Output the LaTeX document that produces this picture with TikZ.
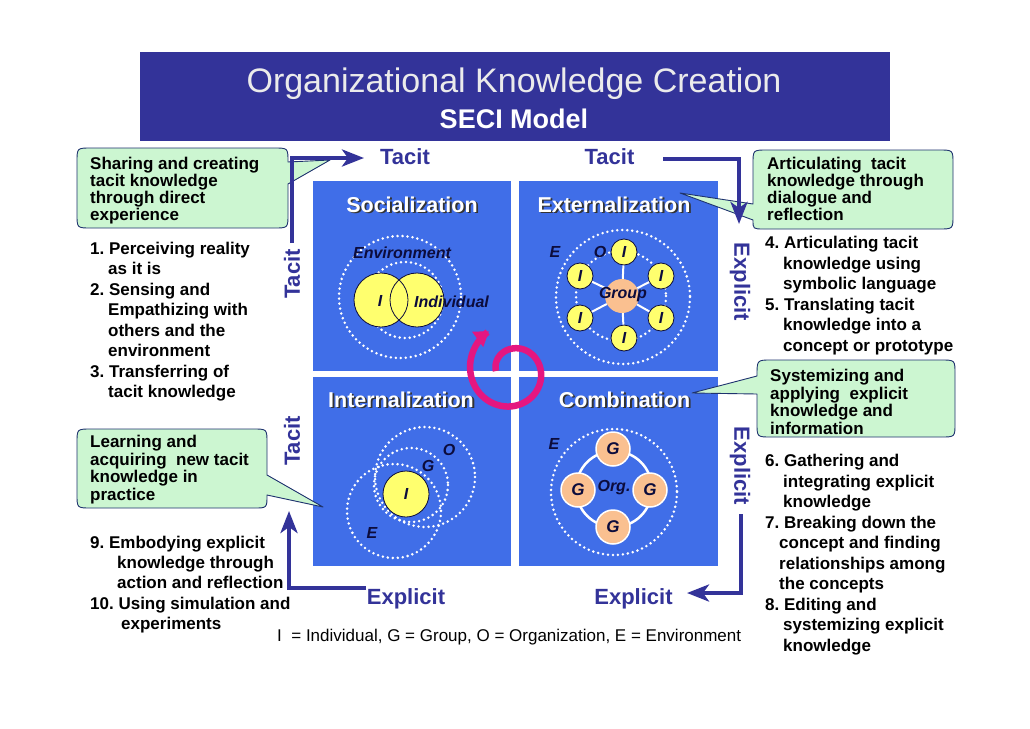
\documentclass[tikz,border=0pt]{standalone}
\usepackage{fontspec}
\setmainfont{Liberation Sans}
\usetikzlibrary{arrows.meta}
\frenchspacing
\definecolor{navy}{RGB}{51,51,153}
\definecolor{quadblue}{RGB}{64,110,232}
\definecolor{magentaS}{RGB}{228,22,128}
\definecolor{yellowC}{RGB}{255,255,110}
\definecolor{peach}{RGB}{250,192,144}
\definecolor{mint}{RGB}{204,246,209}
\definecolor{calloutline}{RGB}{30,50,110}
\definecolor{darkink}{RGB}{12,12,60}
\tikzset{
  quad/.style={fill=quadblue, draw=none, inner sep=0pt},
  dotring/.style={draw=white, line width=2.8pt, dash pattern=on 0pt off 5pt, line cap=round},
  lst/.style={anchor=base west, inner sep=0pt, font=\fontsize{17}{20}\selectfont\bfseries},
  ctext/.style={anchor=base west, inner sep=0pt, font=\fontsize{17}{17}\selectfont\bfseries},
  callout/.style={fill=mint, draw=calloutline, line width=0.9pt, line join=round},
  flowarrow/.style={draw=navy, line width=4.6pt, -{Stealth[length=22pt,width=17pt,inset=6pt]}},
  axislbl/.style={text=navy, font=\fontsize{22}{24}\selectfont\bfseries, inner sep=0pt},
  qtitle/.style={text=white, font=\fontsize{21.5}{24}\selectfont\bfseries, anchor=base, inner sep=0pt},
  qshadow/.style={text=black!80, font=\fontsize{21.5}{24}\selectfont\bfseries, anchor=base, inner sep=0pt},
  lbl/.style={text=darkink, font=\fontsize{16}{18}\selectfont\bfseries\itshape, inner sep=0pt},
  icirc/.style={circle, fill=yellowC, draw=darkink, line width=0.8pt, inner sep=0pt},
  gcirc/.style={circle, fill=peach, draw=white, line width=1.5pt, inner sep=0pt},
  spoke/.style={draw=white, line width=2pt},
  spiral/.style={draw=magentaS, line width=6.5pt, -{Triangle[length=14pt,width=18pt]}},
}
\begin{document}
\begin{tikzpicture}[x=1pt,y=-1pt]
\useasboundingbox (0,0) rectangle (1030,728);
\fill[white] (0,0) rectangle (1030,728);

% ---------- title ----------
\node[fill=navy, anchor=north west, minimum width=750pt, minimum height=89pt, inner sep=0pt] (titlebox) at (140,52) {};
\node[anchor=base, inner sep=0pt, text=white!92!black, font=\fontsize{34}{36}\selectfont] (title1) at (514,92) {Organizational Knowledge Creation};
\node[anchor=base, inner sep=0pt, text=white, font=\fontsize{27}{30}\selectfont\bfseries] (title2) at (514,128) {SECI Model};

% ---------- quadrants ----------
\node[quad, minimum width=198pt, minimum height=190pt] (soc) at (412,276) {};
\node[quad, minimum width=199pt, minimum height=190pt] (ext) at (618.5,276) {};
\node[quad, minimum width=198pt, minimum height=189pt] (int) at (412,471.5) {};
\node[quad, minimum width=199pt, minimum height=189pt] (com) at (618.5,471.5) {};

% Socialization graphic
\draw[dotring] (400,297) circle[radius=61];
\draw[dotring] (405,300) circle[radius=38];
\node[circle, fill=yellowC, inner sep=0pt, minimum size=54pt] (sA) at (381,300) {};
\node[circle, fill=yellowC, inner sep=0pt, minimum size=54pt] (sB) at (417,300) {};
\node[circle, draw=darkink, line width=0.8pt, inner sep=0pt, minimum size=54pt] (sAo) at (sA) {};
\node[circle, draw=darkink, line width=0.8pt, inner sep=0pt, minimum size=54pt] (sBo) at (sB) {};
\node[lbl, anchor=base] (envL) at (402,258) {Environment};
\node[lbl] (sIL) at (380,301) {I};
\node[lbl, anchor=west] (indL) at (414,302) {Individual};

% Externalization graphic
\draw[dotring] (623,297) circle[radius=67];
\draw[dotring] (621,296) circle[radius=45];
\node[circle, fill=peach, inner sep=0pt, minimum size=34pt] (grp) at (622,296) {};
\node[icirc, lbl, minimum size=26pt] (e1) at (624,252) {I};
\node[icirc, lbl, minimum size=26pt] (e2) at (580,276) {I};
\node[icirc, lbl, minimum size=26pt] (e3) at (661,276) {I};
\node[icirc, lbl, minimum size=26pt] (e4) at (580,318) {I};
\node[icirc, lbl, minimum size=26pt] (e5) at (661,318) {I};
\node[icirc, lbl, minimum size=26pt] (e6) at (624,338) {I};
\foreach \n in {e1,e2,e3,e4,e5,e6} \draw[spoke] (grp) -- (\n);
\node[lbl] (grpL) at (623,295) {Group};
\node[lbl] (eE) at (555,252) {E};
\node[lbl] (eO) at (600,252) {O};

% Internalization graphic
\draw[dotring] (394,511) circle[radius=47];
\draw[dotring] (411,485) circle[radius=37];
\draw[dotring] (425,477) circle[radius=50];
\node[icirc, lbl, minimum size=46pt] (iI) at (406,494) {I};
\node[lbl] (iO) at (449,450) {O};
\node[lbl] (iG) at (428,466) {G};
\node[lbl] (iE) at (372,533) {E};

% Combination graphic
\draw[dotring] (614,492) circle[radius=63];
\draw[draw=white, line width=2.5pt] (614,489) circle[radius=38];
\node[gcirc, lbl, font=\fontsize{17}{18}\selectfont\bfseries\itshape, minimum size=34pt] (g1) at (613,449) {G};
\node[gcirc, lbl, font=\fontsize{17}{18}\selectfont\bfseries\itshape, minimum size=34pt] (g2) at (578,490) {G};
\node[gcirc, lbl, font=\fontsize{17}{18}\selectfont\bfseries\itshape, minimum size=34pt] (g3) at (650,490) {G};
\node[gcirc, lbl, font=\fontsize{17}{18}\selectfont\bfseries\itshape, minimum size=34pt] (g4) at (613,527) {G};
\node[lbl] (orgL) at (614,488) {Org.};
\node[lbl] (cE) at (554,444) {E};

% quadrant titles
\node[qshadow] (socS) at (413.8,213.8) {Socialization};
\node[qtitle]  (socT) at (412,212) {Socialization};
\node[qshadow] (extS) at (615.8,213.8) {Externalization};
\node[qtitle]  (extT) at (614,212) {Externalization};
\node[qshadow] (intS) at (402.8,408.8) {Internalization};
\node[qtitle]  (intT) at (401,407) {Internalization};
\node[qshadow] (comS) at (626.3,408.8) {Combination};
\node[qtitle]  (comT) at (624.5,407) {Combination};

% ---------- callouts ----------
\path[callout] (91,148) -- (274,148) .. controls (288,148) .. (288,162) -- (330,160) -- (288,184)
  -- (288,214) .. controls (288,228) .. (274,228) -- (91,228) .. controls (77,228) .. (77,214)
  -- (77,162) .. controls (77,148) .. (91,148) -- cycle;
\path[callout] (767,150) -- (939,150) .. controls (953,150) .. (953,164) -- (953,215)
  .. controls (953,229) .. (939,229) -- (764,229) .. controls (753,229) .. (753,220)
  -- (680,193) -- (753,204) -- (753,164) .. controls (753,150) .. (767,150) -- cycle;
\path[callout] (771,360) -- (941,360) .. controls (955,360) .. (955,374) -- (955,423)
  .. controls (955,437) .. (941,437) -- (771,437) .. controls (757,437) .. (757,423)
  -- (757,394) -- (692,393) -- (757,376) .. controls (757,360) .. (771,360) -- cycle;
\path[callout] (91,429) -- (253,429) .. controls (267,429) .. (267,443) -- (267,475)
  -- (323,507) -- (267,495) .. controls (267,508) .. (254,508) -- (91,508)
  .. controls (77,508) .. (77,494) -- (77,443) .. controls (77,429) .. (91,429) -- cycle;

\foreach \i/\x/\y/\t in {1/90/163/{Sharing and creating}, 2/90/180/{tacit knowledge},
  3/90/197/{through direct}, 4/90/214/{experience},
  5/767/163/{Articulating~ tacit}, 6/767/180/{knowledge through}, 7/767/197/{dialogue and}, 8/767/214/{reflection},
  9/770/375/{Systemizing and}, 10/770/393/{applying~ explicit}, 11/770/410/{knowledge and}, 12/770/428/{information},
  13/90/441/{Learning and}, 14/90/459/{acquiring~ new tacit}, 15/90/476/{knowledge in}, 16/90/494/{practice}}
  \node[ctext] (ct\i) at (\x,\y+6) {\t};

% ---------- flow arrows ----------
\coordinate (a1s) at (292,243); \coordinate (a1c) at (292,158); \coordinate (a1e) at (364,158);
\coordinate (a2s) at (663,159); \coordinate (a2c) at (739,159); \coordinate (a2e) at (739,224);
\coordinate (a3s) at (741,514); \coordinate (a3c) at (741,593); \coordinate (a3e) at (687,593);
\coordinate (a4s) at (366,588); \coordinate (a4c) at (289,588); \coordinate (a4e) at (289,511);
\draw[flowarrow] (a1s) -- (a1c) -- (a1e);
\draw[flowarrow] (a2s) -- (a2c) -- (a2e);
\draw[flowarrow] (a3s) -- (a3c) -- (a3e);
\draw[flowarrow] (a4s) -- (a4c) -- (a4e);

% axis labels
\node[axislbl, anchor=base] (tacT1) at (405,164) {Tacit};
\node[axislbl, anchor=base] (tacT2) at (609.5,164) {Tacit};
\node[axislbl, anchor=base] (expB1) at (406,604) {Explicit};
\node[axislbl, anchor=base] (expB2) at (633.5,604) {Explicit};
\node[axislbl, rotate=90] (tacL1) at (292,274) {Tacit};
\node[axislbl, rotate=90] (tacL2) at (292,441) {Tacit};
\node[axislbl, rotate=-90] (expR1) at (740,282) {Explicit};
\node[axislbl, rotate=-90] (expR2) at (740,466) {Explicit};

% ---------- lists ----------
\foreach \i/\x/\y/\t in {1/90/248/{1. Perceiving reality}, 2/108/268/{as it is}, 3/90/289/{2. Sensing and},
  4/108/309/{Empathizing with}, 5/108/330/{others and the}, 6/108/350/{environment},
  7/90/371/{3. Transferring of}, 8/108/391/{tacit knowledge},
  9/90/542/{9. Embodying explicit}, 10/117/562/{knowledge through}, 11/117/582/{action and reflection},
  12/90/603/{10. Using simulation and}, 13/121/623/{experiments},
  14/765/242/{4. Articulating tacit}, 15/783/263/{knowledge using}, 16/783/283/{symbolic language},
  17/765/304/{5. Translating tacit}, 18/783/324/{knowledge into a}, 19/783/345/{concept or prototype},
  20/765/460/{6. Gathering and}, 21/783/481/{integrating explicit}, 22/783/501/{knowledge},
  23/765/522/{7. Breaking down the}, 24/779/542/{concept and finding}, 25/779/563/{relationships among},
  26/779/583/{the concepts}, 27/765/604/{8. Editing and}, 28/783/624/{systemizing explicit},
  29/783/645/{knowledge}}
  \node[lst] (li\i) at (\x,\y+6) {\t};

\node[anchor=base west, inner sep=0pt, font=\fontsize{17}{20}\selectfont] (caption) at (277,641)
  {I~ = Individual, G = Group, O = Organization, E = Environment};

% ---------- spiral ----------
\draw[spiral] plot[domain=180:600, samples=160, smooth]
  ({512+(16+(\x-180)*30/420)*cos(\x)}, {371+(16+(\x-180)*30/420)*sin(\x)});
\end{tikzpicture}
\end{document}
